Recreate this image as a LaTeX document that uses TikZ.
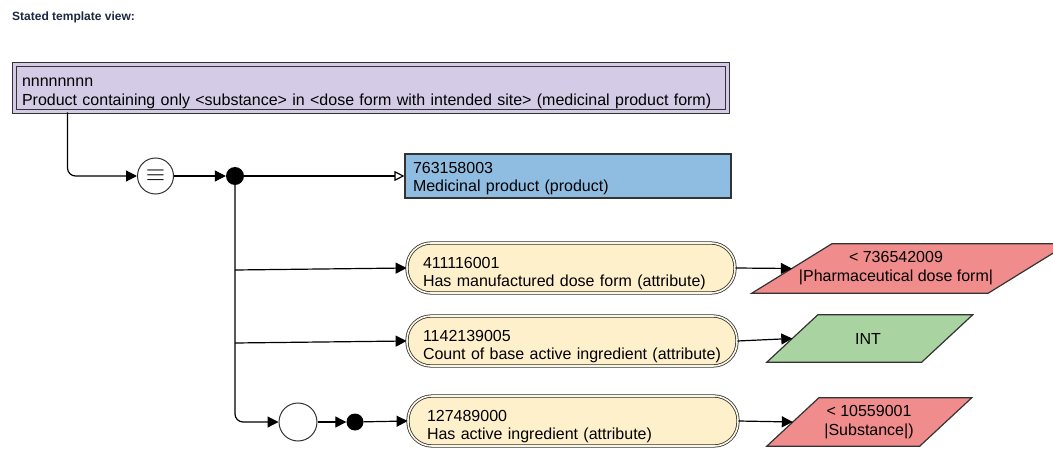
\documentclass[tikz,border=0pt]{standalone}
\usepackage{fontspec}
\setmainfont{Liberation Sans}
\usetikzlibrary{arrows.meta,calc}
\definecolor{lav}{RGB}{212,204,230}
\definecolor{medblue}{RGB}{143,189,225}
\definecolor{cream}{RGB}{255,240,204}
\definecolor{creamgap}{RGB}{250,246,228}
\definecolor{redp}{RGB}{240,140,140}
\definecolor{greenp}{RGB}{169,211,160}
\definecolor{edgec}{RGB}{51,51,51}
\definecolor{titlec}{RGB}{28,40,64}
\begin{document}
\begin{tikzpicture}[x=1pt,y=-1pt,
  every node/.style={font=\fontsize{16}{18.5}\selectfont},
  topbox/.style={draw=edgec, line width=1pt, double=lav, double distance=3pt, fill=lav,
    minimum width=713, minimum height=47, inner xsep=8, inner ysep=0, text width=697, align=left,
    text height=10, text depth=13},
  bluebox/.style={draw=edgec, line width=1.2pt, fill=medblue, minimum width=326, minimum height=44,
    inner xsep=8, inner ysep=0, text width=310, align=left, text height=10, text depth=15},
  attrbox/.style={draw=edgec, line width=0.8pt, double=creamgap, double distance=1.6pt, fill=cream,
    rounded corners=24, minimum width=328, minimum height=50, inner xsep=16, inner ysep=0,
    text width=296, align=left, text height=14, text depth=14},
  pframe/.style={inner sep=0, minimum height=48},
  pdraw/.style={draw=edgec, line width=1.2pt},
  ptext/.style={align=center, inner sep=0},
  opcircle/.style={circle, draw=edgec, fill=white, line width=1pt, inner sep=0},
  dotnode/.style={circle, fill=black, inner sep=0, minimum size=18},
  conn/.style={line width=1.2pt, -{Triangle[length=11pt,width=11pt]}},
  connopen/.style={line width=1.2pt, -{Triangle[open,length=10pt,width=10pt,fill=white]}},
]
\useasboundingbox (0,0) rectangle (1053,468);

\node[anchor=west, font=\fontsize{12}{14}\selectfont\bfseries, text=titlec, inner sep=0] (title) at (12,17) {Stated template view:};

\node[topbox] (top) at (370.5,88.5) {nnnnnnnn\\Product containing only <substance> in <dose form with intended site> (medicinal product form)};

\node[opcircle, minimum size=36] (eq) at (155.5,176) {\fontsize{24}{24}\selectfont$\equiv$};
\node[dotnode] (d1) at (235,176) {};
\node[bluebox] (med) at (568,176) {763158003\\Medicinal product (product)};

\node[attrbox] (a1) at (571,268) {411116001\\Has manufactured dose form (attribute)};
\node[attrbox, minimum width=330, text width=298] (a2) at (572,341) {1142139005\\Count of base active ingredient (attribute)};
\node[attrbox, minimum width=330, inner xsep=19, text width=292] (a3) at (573,421) {127489000\\Has active ingredient (attribute)};

\node[opcircle, minimum size=38] (c2) at (298,422) {};
\node[dotnode, minimum size=17] (d2) at (355,422) {};

% parallelograms
\node[pframe, minimum width=236, minimum height=49] (p1) at (910,268.5) {};
\filldraw[pdraw, fill=redp] ([xshift=-40]p1.south west) -- ([xshift=40]p1.north west) -- ([xshift=40]p1.north east) -- ([xshift=-40]p1.south east) -- cycle;
\node[ptext] (p1t) at (896,268) {< 736542009\\|Pharmaceutical dose form|};

\node[pframe, minimum width=154.5, minimum height=47] (p2) at (869.75,338.5) {};
\filldraw[pdraw, fill=greenp] ([xshift=-25.5]p2.south west) -- ([xshift=25.5]p2.north west) -- ([xshift=25.5]p2.north east) -- ([xshift=-25.5]p2.south east) -- cycle;
\node[ptext] (p2t) at (868,338.5) {INT};

\node[pframe, minimum width=152.5, minimum height=48] (p3) at (869.25,422) {};
\filldraw[pdraw, fill=redp] ([xshift=-26]p3.south west) -- ([xshift=26]p3.north west) -- ([xshift=26]p3.north east) -- ([xshift=-26]p3.south east) -- cycle;
\node[ptext] (p3t) at (869,422) {< 10559001\\|Substance|)};

% connectors
\draw[conn, rounded corners=8] ([xshift=54]top.south west) |- (eq.west);
\draw[conn] (eq) -- (d1);
\draw[connopen] (d1) -- (med.west);
\draw[conn, rounded corners=8] (d1.south) |- (c2.west);
\coordinate (b1) at (235,270);
\coordinate (b2) at (235,343);
\draw[conn] (b1) -- (a1.west);
\draw[conn] (b2) -- (a2.west);
\draw[conn] (c2) -- (d2);
\draw[conn] (d2) -- (a3.west);
\draw[conn] (a1.east) -- (p1.west);
\draw[conn] (a2.east) -- (p2.west);
\draw[conn] (a3.east) -- (p3.west);
\end{tikzpicture}
\end{document}
